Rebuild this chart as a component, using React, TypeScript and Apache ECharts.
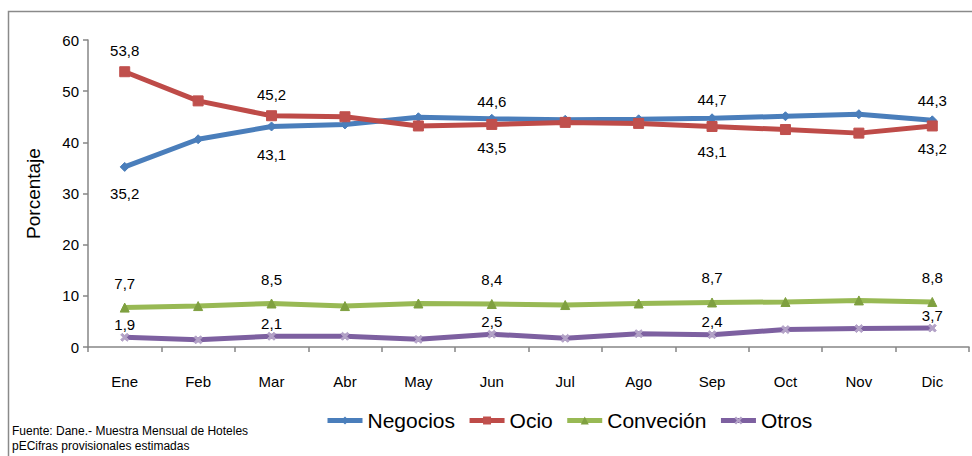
import React, { useEffect, useRef } from "react";
import * as echarts from "echarts";

const months = ["Ene", "Feb", "Mar", "Abr", "May", "Jun", "Jul", "Ago", "Sep", "Oct", "Nov", "Dic"];
const negocios = [35.2, 40.6, 43.1, 43.5, 44.9, 44.6, 44.4, 44.5, 44.7, 45.1, 45.5, 44.3];
const ocio = [53.8, 48.1, 45.2, 45.0, 43.2, 43.5, 43.9, 43.7, 43.1, 42.5, 41.8, 43.2];
const convecion = [7.7, 8.0, 8.5, 8.0, 8.5, 8.4, 8.2, 8.5, 8.7, 8.8, 9.1, 8.8];
const otros = [1.9, 1.4, 2.1, 2.1, 1.5, 2.5, 1.7, 2.6, 2.4, 3.4, 3.6, 3.7];
const yTicks = [0, 10, 20, 30, 40, 50, 60];
const labelledMonths = [0, 2, 5, 8, 11];

const FONT = "'Liberation Sans', Arial, sans-serif";

function withLabels(values: number[], positions: Record<number, [string, number]>) {
  return values.map((v, i) => {
    if (!labelledMonths.includes(i)) return { value: v };
    const [pos, dist] = positions[i];
    return {
      value: v,
      label: {
        show: true,
        position: pos,
        distance: dist,
        formatter: (p: any) => String(p.value.toFixed(1)).replace(".", ","),
        color: "#000",
        fontSize: 15,
        fontFamily: FONT,
      },
    };
  });
}

export default function App() {
  const ref = useRef<HTMLDivElement>(null);
  useEffect(() => {
    if (!ref.current) return;
    const chart = echarts.init(ref.current, null, { renderer: "svg" });
    const lineBase = (name: string, color: string, symbol: string, symbolSize: number, symColor: string, data: any[]) => ({
      name,
      type: "line",
      data,
      symbol,
      symbolSize,
      lineStyle: { color, width: 5 },
      itemStyle: { color: symColor, borderColor: symColor },
      emphasis: { disabled: true },
      z: 2,
    });
    chart.setOption({
      animation: false,
      textStyle: { fontFamily: FONT },
      grid: { left: 88, right: 3, top: 40, bottom: 109, containLabel: false },
      legend: {
        top: 405,
        left: 320,
        itemWidth: 35,
        itemHeight: 10,
        itemGap: 12,
        lineStyle: { width: 5 },
        textStyle: { fontSize: 21, color: "#000", fontFamily: FONT },
        data: ["Negocios", "Ocio", "Conveción", "Otros"],
      },
      xAxis: {
        type: "category",
        data: months,
        boundaryGap: true,
        axisLine: { lineStyle: { color: "#868686", width: 1.5 } },
        axisTick: { show: true, length: 5, interval: 0, lineStyle: { color: "#868686", width: 1.5 } },
        axisLabel: { color: "#000", fontSize: 15, margin: 27, fontFamily: FONT },
      },
      yAxis: {
        type: "value",
        min: yTicks[0],
        max: yTicks[yTicks.length - 1],
        interval: 10,
        name: "Porcentaje",
        nameLocation: "middle",
        nameGap: 45,
        nameTextStyle: { color: "#000", fontSize: 19, fontFamily: FONT },
        splitLine: { show: false },
        axisLine: { show: true, lineStyle: { color: "#868686", width: 1.5 } },
        axisTick: { show: true, length: 5, lineStyle: { color: "#868686", width: 1.5 } },
        axisLabel: { color: "#000", fontSize: 15, margin: 9, fontFamily: FONT },
      },
      graphic: [
        {
          type: "rect",
          shape: { x: 8.5, y: 11.5, width: 1000, height: 500 },
          style: { fill: "none", stroke: "#8a8a8a", lineWidth: 1.5 },
          silent: true,
        },
        {
          type: "text",
          left: 12,
          top: 423,
          style: {
            text: "Fuente: Dane.- Muestra Mensual de Hoteles\npECifras provisionales estimadas",
            fontSize: 12,
            lineHeight: 15,
            fill: "#000",
            fontFamily: FONT,
          },
        },
      ],
      series: [
        lineBase("Negocios", "#4A7EBB", "diamond", 9, "#4A7EBB",
          withLabels(negocios, { 0: ["bottom", 14], 2: ["bottom", 16], 5: ["top", 5], 8: ["top", 6], 11: ["top", 7] })),
        lineBase("Ocio", "#BE4B48", "rect", 10, "#C0504D",
          withLabels(ocio, { 0: ["top", 8], 2: ["top", 8], 5: ["bottom", 10], 8: ["bottom", 12], 11: ["bottom", 10] })),
        lineBase("Conveción", "#98B954", "triangle", 9, "#7FA040",
          withLabels(convecion, { 0: ["top", 12], 2: ["top", 12], 5: ["top", 12], 8: ["top", 12], 11: ["top", 12] })),
        lineBase("Otros", "#7D60A0", "path://M0,2 L2,0 L5,3 L8,0 L10,2 L7,5 L10,8 L8,10 L5,7 L2,10 L0,8 L3,5 Z", 8, "#B3A2C7",
          withLabels(otros, { 0: ["top", 1], 2: ["top", 1], 5: ["top", 1], 8: ["top", 1], 11: ["top", 1] })),
      ],
    });
    return () => chart.dispose();
  }, []);
  return <div ref={ref} style={{ position: "absolute", left: 0, top: 0, width: 972, height: 456 }} />;
}
